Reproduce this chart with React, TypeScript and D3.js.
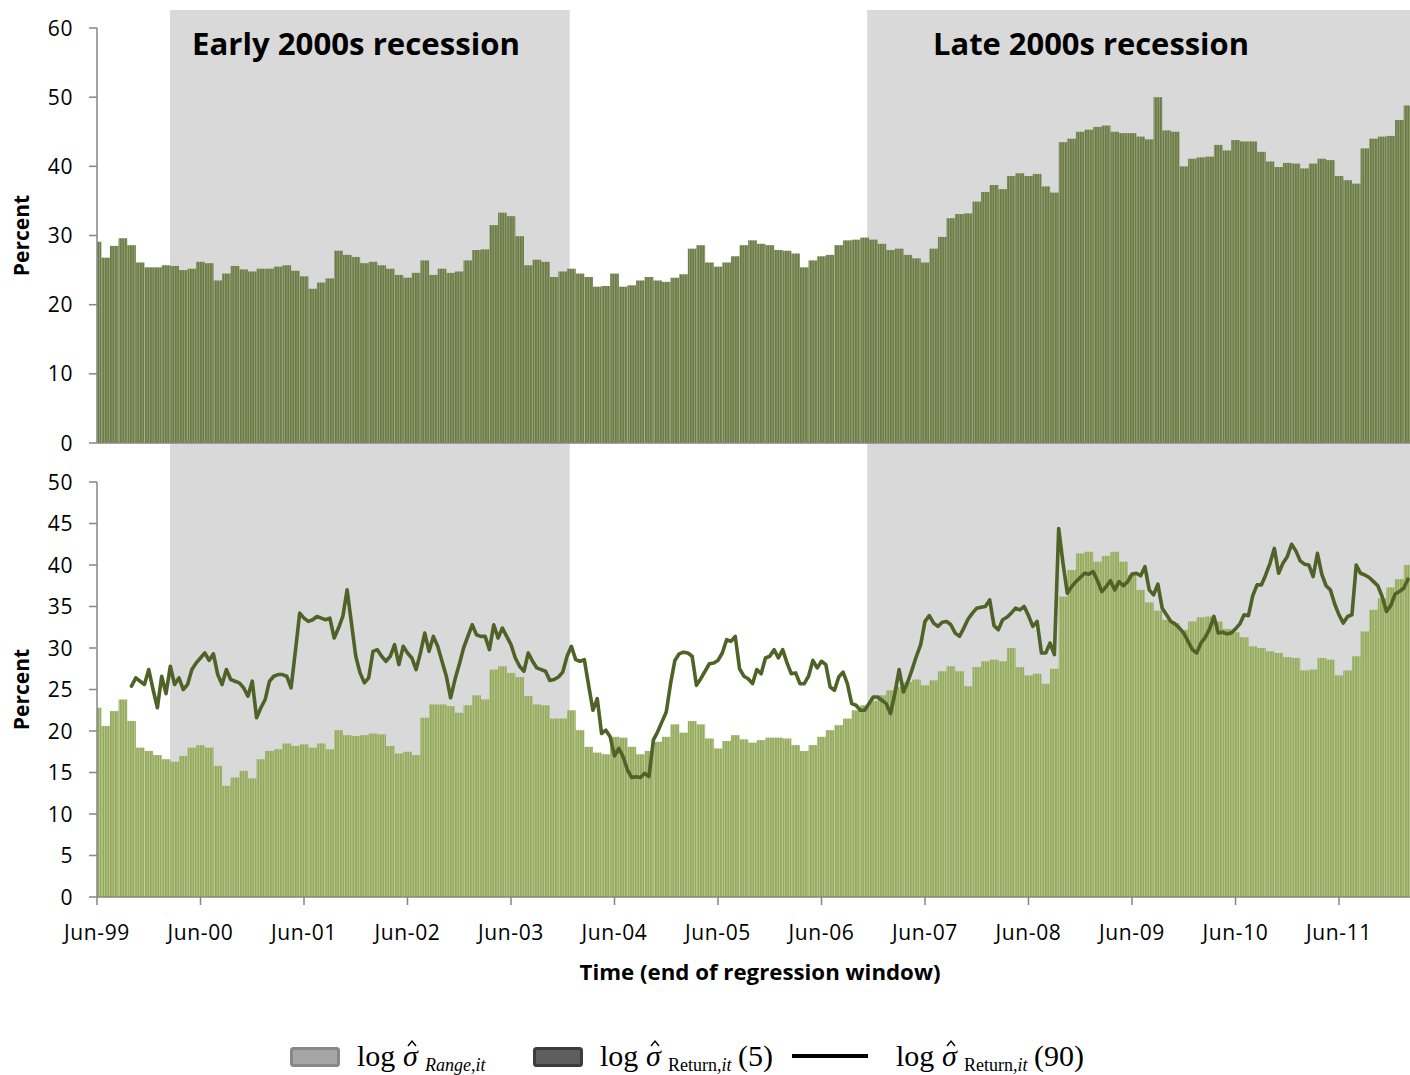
import React from 'react';
import * as d3 from 'd3';

// ---------- data ----------
const xTickLabels = ['Jun-99','Jun-00','Jun-01','Jun-02','Jun-03','Jun-04','Jun-05','Jun-06','Jun-07','Jun-08','Jun-09','Jun-10','Jun-11'];
const topTicks = [0, 10, 20, 30, 40, 50, 60];
const bottomTicks = [0, 5, 10, 15, 20, 25, 30, 35, 40, 45, 50];

// monthly, index 0 = Jun-99
const returnBars5 = [
  29.1, 26.8, 28.5, 29.6, 28.6, 26.1, 25.4, 25.4, 25.7, 25.6,
  25.0, 25.2, 26.2, 26.0, 23.5, 24.5, 25.6, 25.1, 24.8, 25.2,
  25.2, 25.5, 25.7, 24.9, 24.1, 22.3, 23.2, 23.8, 27.8, 27.2,
  26.9, 26.0, 26.2, 25.7, 25.2, 24.3, 23.9, 24.6, 26.4, 24.3,
  25.2, 24.6, 24.8, 26.4, 27.9, 28.0, 31.5, 33.3, 32.8, 29.9,
  25.7, 26.5, 26.2, 24.0, 24.8, 25.2, 24.5, 24.0, 22.6, 22.7,
  24.5, 22.6, 22.8, 23.5, 24.0, 23.5, 23.3, 23.9, 24.4, 28.1,
  28.6, 26.1, 25.5, 26.1, 27.0, 28.6, 29.3, 28.8, 28.6, 27.9,
  27.8, 27.4, 25.4, 26.4, 27.0, 27.2, 28.6, 29.3, 29.4, 29.7,
  29.4, 28.8, 27.9, 28.1, 27.2, 26.7, 26.1, 28.1, 29.8, 32.5,
  33.1, 33.2, 34.9, 36.3, 37.3, 36.7, 38.6, 39.0, 38.6, 38.9,
  37.1, 36.2, 43.5, 44.0, 45.0, 45.3, 45.7, 45.9, 45.0, 44.8,
  44.8, 44.3, 43.9, 50.0, 45.2, 45.0, 40.0, 41.1, 41.3, 41.4,
  43.1, 42.3, 43.8, 43.6, 43.6, 42.1, 40.7, 39.9, 40.5, 40.4,
  39.7, 40.4, 41.1, 40.9, 38.6, 38.0, 37.5, 42.6, 44.0, 44.3,
  44.4, 46.7, 48.8,
];

const rangeBars = [
  22.8, 20.6, 22.4, 23.8, 21.2, 18.0, 17.6, 17.1, 16.6, 16.3,
  17.0, 18.0, 18.3, 18.0, 15.8, 13.4, 14.4, 15.2, 14.3, 16.6,
  17.6, 17.8, 18.5, 18.2, 18.4, 18.0, 18.5, 17.8, 20.1, 19.5,
  19.4, 19.5, 19.7, 19.6, 18.2, 17.3, 17.5, 17.1, 21.6, 23.2,
  23.2, 23.0, 22.2, 23.1, 24.3, 23.8, 27.4, 27.8, 27.0, 26.5,
  24.2, 23.2, 23.1, 21.5, 21.5, 22.5, 20.1, 18.1, 17.4, 17.2,
  19.3, 19.2, 18.1, 17.2, 17.6, 18.7, 19.3, 20.8, 19.8, 21.2,
  20.8, 19.1, 17.9, 18.8, 19.5, 19.0, 18.6, 18.9, 19.2, 19.2,
  19.1, 18.3, 17.6, 18.3, 19.3, 20.1, 20.7, 21.5, 22.5, 23.1,
  23.6, 24.3, 24.9, 25.3, 25.9, 26.2, 25.5, 26.1, 27.2, 27.8,
  27.2, 25.4, 27.7, 28.4, 28.6, 28.4, 30.0, 27.7, 26.7, 26.9,
  25.7, 27.5, 36.2, 39.4, 41.4, 41.6, 40.4, 41.1, 41.6, 40.4,
  38.8, 37.0, 35.5, 34.5, 33.4, 33.0, 32.2, 33.2, 33.7, 33.8,
  33.2, 32.3, 31.9, 31.3, 30.2, 30.0, 29.6, 29.4, 28.9, 28.8,
  27.3, 27.4, 28.8, 28.6, 26.7, 27.3, 29.0, 32.0, 34.6, 36.0,
  37.3, 38.3, 40.0,
];

// half-monthly, first value at half-month index 8 (Oct-99)
const LINE_START_HALF_MONTH = 8;
const return90Line = [
  25.4, 26.4, 26.0, 25.6, 27.4, 25.0, 22.8, 26.6, 24.5, 27.8,
  25.6, 26.4, 25.0, 25.6, 27.4, 28.2, 28.8, 29.4, 28.5, 29.3,
  26.8, 25.6, 27.4, 26.2, 26.0, 25.8, 25.2, 24.2, 26.0, 21.6,
  22.8, 23.8, 26.0, 26.6, 26.8, 26.8, 26.6, 25.2, 29.6, 34.2,
  33.6, 33.2, 33.4, 33.8, 33.6, 33.4, 33.6, 31.2, 32.4, 33.8,
  37.0, 33.0, 29.0, 27.0, 25.8, 26.4, 29.6, 29.8, 29.0, 28.4,
  29.0, 30.4, 28.0, 30.2, 29.4, 28.8, 27.4, 29.4, 31.8, 29.6,
  31.4, 30.2, 28.4, 26.6, 24.0, 26.2, 28.0, 30.0, 31.4, 32.8,
  31.6, 31.4, 31.4, 29.8, 32.8, 31.2, 32.4, 31.4, 30.4, 28.8,
  27.8, 27.2, 29.4, 28.4, 27.6, 27.4, 27.2, 26.1, 26.2, 26.5,
  27.1, 29.0, 30.2, 28.6, 28.4, 28.6, 25.5, 22.5, 23.9, 19.7,
  20.1, 19.3, 17.0, 17.9, 16.9, 15.3, 14.4, 14.5, 14.4, 14.9,
  14.5, 18.9, 19.9, 21.1, 22.3, 25.7, 28.5, 29.3, 29.5, 29.4,
  29.0, 25.5, 26.3, 27.2, 28.1, 28.2, 28.5, 29.4, 31.0, 30.8,
  31.4, 27.5, 26.6, 26.3, 25.7, 27.4, 26.9, 28.8, 29.0, 29.8,
  28.8, 29.8, 28.2, 26.9, 27.0, 25.7, 25.7, 26.6, 28.5, 27.6,
  28.4, 28.0, 25.3, 24.9, 26.5, 27.1, 25.7, 23.3, 23.1, 22.5,
  22.5, 23.3, 24.1, 24.1, 23.7, 23.3, 22.1, 24.5, 27.4, 24.7,
  25.9, 27.4, 29.0, 30.4, 33.2, 33.9, 33.0, 32.6, 33.1, 33.2,
  32.8, 31.8, 31.4, 32.4, 33.5, 34.2, 34.8,
  34.9, 35.0, 35.8, 32.7, 32.2, 33.4, 33.7, 34.2, 34.8, 34.6,
  35.0, 33.9, 32.6, 33.2, 29.4, 29.4, 30.6, 29.2, 44.4, 40.2,
  36.6, 37.4, 38.0, 38.5, 39.0, 38.9, 39.2, 38.1, 36.8, 37.4,
  38.1, 37.0, 38.0, 37.5, 38.0, 38.9, 39.0, 38.7, 39.8, 37.0,
  36.4, 37.7, 34.8, 34.0, 33.2, 32.9, 32.4, 31.8, 30.8, 29.8,
  29.4, 30.6, 31.3, 32.3, 33.8, 31.8, 31.9, 31.7, 31.8, 32.3,
  32.9, 34.0, 33.9, 36.3, 37.6, 37.6, 38.8, 40.2, 42.0, 39.0,
  40.2, 41.0, 42.5, 41.7, 40.5, 40.1, 40.0, 38.6, 41.4, 38.9,
  37.5, 37.0, 35.3, 34.0, 33.0, 33.8, 34.0, 40.0, 39.0, 38.8,
  38.5, 38.0, 37.5, 36.2, 34.4, 35.1, 36.5, 36.8, 37.2, 38.3,
];

// recession shading in month indices (0 = Jun-99)
const recessions = [
  { label: 'Early 2000s recession', start: 8.46, end: 54.8 },
  { label: 'Late 2000s recession', start: 89.3, end: 152.3 },
];
const MONTHS_SHOWN = 152.3;

// ---------- component ----------
const AXIS = '#868686';
const SANS = '"Open Sans", "DejaVu Sans", sans-serif';
const SERIF = '"Liberation Serif", "DejaVu Serif", serif';

function SigmaHat({ x, y }: { x: number; y: number }) {
  return (
    <g>
      <text x={x} y={y} fontSize={30} fontStyle="italic">σ</text>
      <polyline
        points={`${x + 5},${y - 20} ${x + 9},${y - 25} ${x + 13},${y - 20}`}
        fill="none"
        stroke="#000"
        strokeWidth={1.4}
      />
    </g>
  );
}

export default function App() {
  const W = 1410;
  const H = 1075;
  const x = d3.scaleLinear().domain([0, 144]).range([97, 1339]);
  const xLeft = x(0);
  const xRight = x(MONTHS_SHOWN);
  const yTop = d3.scaleLinear().domain([0, 60]).range([443, 28]);
  const yBot = d3.scaleLinear().domain([0, 50]).range([897, 482]);
  const plotTop = 10;
  const bw = x(1) - x(0);

  const linePath = d3
    .line<number>()
    .x((_, i) => x((i + LINE_START_HALF_MONTH) / 2))
    .y((d) => yBot(d))
    .curve(d3.curveLinear)(return90Line) || '';

  const recLabelX = [192, 933];
  const tickFont = { fontFamily: SANS, fontSize: 21, letterSpacing: 0.6 };

  return (
    <svg
      width={W}
      height={H}
      style={{ position: 'absolute', left: 0, top: 0, display: 'block', background: '#fff' }}
    >
      <defs>
        <pattern id="pTop" patternUnits="userSpaceOnUse" width={2.5} height={10}>
          <rect width={2.5} height={10} fill="#a2ad88" />
          <rect width={1.9} height={10} fill="#6c7c47" />
        </pattern>
        <pattern id="pBot" patternUnits="userSpaceOnUse" width={2.5} height={10}>
          <rect width={2.5} height={10} fill="#c5d1a4" />
          <rect width={1.9} height={10} fill="#94aa5d" />
        </pattern>
        <clipPath id="plotClip">
          <rect x={xLeft} y={0} width={xRight - xLeft} height={H} />
        </clipPath>
      </defs>

      {/* recession shading */}
      {recessions.map((r, i) => (
        <rect
          key={'rec' + i}
          x={x(r.start)}
          y={plotTop}
          width={x(r.end) - x(r.start)}
          height={yBot(0) - plotTop}
          fill="#d9d9d9"
        />
      ))}

      {/* bars */}
      <g clipPath="url(#plotClip)">
        {returnBars5.map((v, i) => (
          <rect
            key={'t' + i}
            x={x(i) - bw / 2}
            y={yTop(v)}
            width={bw + 0.05}
            height={yTop(0) - yTop(v)}
            fill="url(#pTop)"
          />
        ))}
        {rangeBars.map((v, i) => (
          <rect
            key={'b' + i}
            x={x(i) - bw / 2}
            y={yBot(v)}
            width={bw + 0.05}
            height={yBot(0) - yBot(v)}
            fill="url(#pBot)"
          />
        ))}
      </g>

      {/* axes: top panel */}
      <line x1={xLeft} x2={xLeft} y1={yTop(60)} y2={yTop(0)} stroke={AXIS} strokeWidth={1.5} />
      <line x1={xLeft} x2={xRight} y1={yTop(0)} y2={yTop(0)} stroke={AXIS} strokeWidth={1.5} />
      {topTicks.map((t) => (
        <g key={'tt' + t}>
          <line x1={xLeft - 8} x2={xLeft} y1={yTop(t)} y2={yTop(t)} stroke={AXIS} strokeWidth={1.5} />
          <text x={73} y={yTop(t)} dy="0.36em" textAnchor="end" {...tickFont} fill="#000">
            {t}
          </text>
        </g>
      ))}

      {/* axes: bottom panel */}
      <line x1={xLeft} x2={xLeft} y1={yBot(50)} y2={yBot(0)} stroke={AXIS} strokeWidth={1.5} />
      <line x1={xLeft} x2={xRight} y1={yBot(0)} y2={yBot(0)} stroke={AXIS} strokeWidth={1.5} />
      {bottomTicks.map((t) => (
        <g key={'bt' + t}>
          <line x1={xLeft - 8} x2={xLeft} y1={yBot(t)} y2={yBot(t)} stroke={AXIS} strokeWidth={1.5} />
          <text x={73} y={yBot(t)} dy="0.36em" textAnchor="end" {...tickFont} fill="#000">
            {t}
          </text>
        </g>
      ))}
      {xTickLabels.map((lab, i) => (
        <g key={'xt' + i}>
          <line x1={x(i * 12)} x2={x(i * 12)} y1={yBot(0)} y2={yBot(0) + 8} stroke={AXIS} strokeWidth={1.5} />
          <text x={x(i * 12)} y={940} textAnchor="middle" {...tickFont} fill="#000">
            {lab}
          </text>
        </g>
      ))}

      {/* 90-day line */}
      <path d={linePath} fill="none" stroke="#4f6228" strokeWidth={3.6} strokeLinejoin="round" strokeLinecap="round" />

      {/* titles */}
      {recessions.map((r, i) => (
        <text
          key={'rl' + i}
          x={recLabelX[i]}
          y={55}
          fontFamily={SANS}
          fontWeight="bold"
          fontSize={30}
          fill="#000"
          textLength={i === 0 ? 328 : 316}
          lengthAdjust="spacingAndGlyphs"
        >
          {r.label}
        </text>
      ))}
      <text
        transform={`translate(29, ${(yTop(0) + yTop(60)) / 2}) rotate(-90)`}
        textAnchor="middle"
        fontFamily={SANS}
        fontWeight="bold"
        fontSize={21}
        fill="#000"
      >
        Percent
      </text>
      <text
        transform={`translate(29, ${(yBot(0) + yBot(50)) / 2}) rotate(-90)`}
        textAnchor="middle"
        fontFamily={SANS}
        fontWeight="bold"
        fontSize={21}
        fill="#000"
      >
        Percent
      </text>
      <text
        x={760}
        y={980}
        textAnchor="middle"
        fontFamily={SANS}
        fontWeight="bold"
        fontSize={21}
        fill="#000"
        textLength={361}
        lengthAdjust="spacingAndGlyphs"
      >
        Time (end of regression window)
      </text>

      {/* legend */}
      <g fontFamily={SERIF} fill="#000">
        <rect x={291.5} y={1048.5} width={47} height={17} rx={2} fill="#a6a6a6" stroke="#888888" strokeWidth={3} />
        <text x={357} y={1066} fontSize={30}>log</text>
        <SigmaHat x={403} y={1066} />
        <text x={425} y={1071} fontSize={18} fontStyle="italic">Range,it</text>

        <rect x={534.5} y={1048.5} width={47} height={17} rx={2} fill="#5e5e5e" stroke="#3c3c3c" strokeWidth={3} />
        <text x={600} y={1066} fontSize={30}>log</text>
        <SigmaHat x={646} y={1066} />
        <text x={668} y={1071} fontSize={18}>
          Return,<tspan fontStyle="italic">it</tspan>
        </text>
        <text x={738} y={1066} fontSize={30}>(5)</text>

        <line x1={792} x2={868} y1={1056} y2={1056} stroke="#000" strokeWidth={4} />
        <text x={896} y={1066} fontSize={30}>log</text>
        <SigmaHat x={942} y={1066} />
        <text x={964} y={1071} fontSize={18}>
          Return,<tspan fontStyle="italic">it</tspan>
        </text>
        <text x={1034} y={1066} fontSize={30}>(90)</text>
      </g>
    </svg>
  );
}
